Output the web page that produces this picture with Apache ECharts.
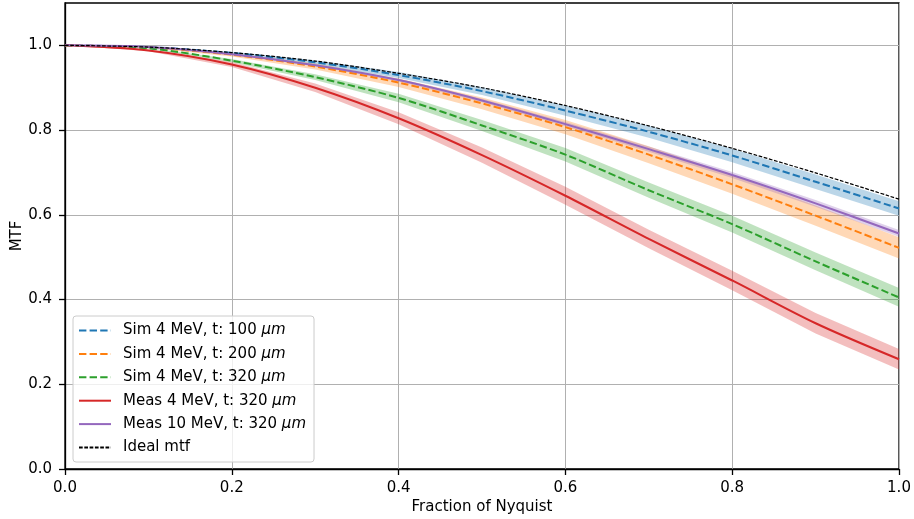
<!DOCTYPE html>
<html>
<head>
<meta charset="utf-8">
<script src="https://cdn.jsdelivr.net/npm/echarts@6/dist/echarts.min.js"></script>
<style>
html, body { margin: 0; padding: 0; background: #fff; }
#chart { width: 914px; height: 519px; }
</style>
</head>
<body>
<div id="chart"></div>
<script>
// ************ data ************
var freq = [0, 0.1, 0.2, 0.3, 0.4, 0.5, 0.6, 0.7, 0.8, 0.9, 1.0];

var sim100 = [1, 0.996, 0.982, 0.960, 0.930, 0.892, 0.846, 0.796, 0.740, 0.678, 0.615];
var sim200 = [1, 0.995, 0.978, 0.950, 0.912, 0.863, 0.807, 0.742, 0.672, 0.598, 0.522];
var sim320 = [1, 0.993, 0.964, 0.925, 0.876, 0.811, 0.742, 0.658, 0.578, 0.490, 0.405];
var meas4 = [1, 0.988, 0.955, 0.900, 0.828, 0.741, 0.645, 0.543, 0.445, 0.344, 0.259];
var meas10 = [1, 0.996, 0.979, 0.953, 0.918, 0.870, 0.814, 0.755, 0.694, 0.627, 0.556];
var ideal = [1, 0.996, 0.983, 0.963, 0.934, 0.900, 0.858, 0.810, 0.757, 0.699, 0.637];

// half width of the shaded bands
var sim100Band = [0, 0.001, 0.003, 0.005, 0.007, 0.009, 0.012, 0.014, 0.016, 0.017, 0.017];
var sim200Band = [0, 0.001, 0.004, 0.007, 0.010, 0.014, 0.017, 0.020, 0.022, 0.024, 0.025];
var sim320Band = [0, 0.001, 0.004, 0.007, 0.010, 0.013, 0.016, 0.018, 0.020, 0.021, 0.022];
var meas4Band = [0, 0.002, 0.006, 0.010, 0.014, 0.018, 0.021, 0.022, 0.023, 0.024, 0.024];
var meas10Band = [0, 0, 0.001, 0.002, 0.003, 0.004, 0.005, 0.006, 0.007, 0.008, 0.008];

var yTicks = [0, 0.2, 0.4, 0.6, 0.8, 1.0];

var names = [
    'Sim 4 MeV, t: 100 ',
    'Sim 4 MeV, t: 200 ',
    'Sim 4 MeV, t: 320 ',
    'Meas 4 MeV, t: 320 ',
    'Meas 10 MeV, t: 320 ',
    'Ideal mtf'
];

var blue = '#1f77b4', orange = '#ff7f0e', green = '#2ca02c', red = '#d62728', purple = '#9467bd';
var FONT = 'DejaVu Sans';

function pairs(vals) {
    var out = [];
    for (var i = 0; i < freq.length; i++) out.push([freq[i], vals[i]]);
    return out;
}

// shaded band drawn as one polygon through the axis scales
function band(vals, half, color) {
    return {
        type: 'custom',
        silent: true,
        z: 1,
        data: [[0, 0]],
        renderItem: function (params, api) {
            var pts = [];
            for (var i = 0; i < freq.length; i++) pts.push(api.coord([freq[i], vals[i] + half[i]]));
            for (var j = freq.length - 1; j >= 0; j--) pts.push(api.coord([freq[j], vals[j] - half[j]]));
            return {
                type: 'polygon',
                shape: { points: pts },
                style: { fill: color, opacity: 0.3 }
            };
        }
    };
}

function line(name, vals, color, type, width, dash) {
    return {
        type: 'line',
        name: name,
        data: pairs(vals),
        smooth: 0.3,
        symbol: 'none',
        z: 3,
        itemStyle: { color: color },
        lineStyle: { color: color, width: width, type: type === 'dashed' ? dash : 'solid' }
    };
}

var chart = echarts.init(document.getElementById('chart'));

var option = {
    animation: false,
    backgroundColor: '#fff',
    textStyle: { fontFamily: FONT },
    grid: {
        left: 65, right: 15, top: 3, bottom: 50,
        outerBoundsMode: 'none',
        containLabel: false,
        show: true, borderColor: '#000', borderWidth: 1.3, backgroundColor: 'transparent'
    },
    legend: {
        orient: 'vertical',
        left: 73,
        top: 316,
        data: names,
        itemWidth: 32,
        itemHeight: 10,
        itemGap: 8.4,
        padding: [7, 8, 7, 5],
        backgroundColor: 'rgba(255,255,255,0.8)',
        borderColor: '#cccccc',
        borderWidth: 1,
        borderRadius: 3,
        itemStyle: { opacity: 0 },
        textStyle: {
            fontFamily: FONT, fontSize: 15, color: '#000',
            padding: [0, 0, 0, 7],
            rich: {
                n: { fontFamily: FONT, fontSize: 15, color: '#000' },
                i: { fontFamily: FONT, fontSize: 15, color: '#000', fontStyle: 'italic' }
            }
        },
        formatter: function (name) {
            if (name === 'Ideal mtf') return '{n|' + name + '}';
            return '{n|' + name + '}{i|μm}';
        }
    },
    xAxis: {
        type: 'value',
        min: 0, max: 1, interval: 0.2,
        name: 'Fraction of Nyquist',
        nameLocation: 'middle',
        nameGap: 31,
        nameMoveOverlap: false,
        nameTextStyle: { fontFamily: FONT, fontSize: 15, color: '#000' },
        axisLine: { show: true, onZero: false, lineStyle: { color: '#000', width: 1.3 } },
        axisTick: { show: true, length: 6, lineStyle: { color: '#000', width: 1.3 } },
        axisLabel: {
            fontFamily: FONT, fontSize: 15, color: '#000', margin: 12,
            formatter: function (v) { return v.toFixed(1); }
        },
        splitLine: { show: true, lineStyle: { color: '#b0b0b0', width: 1 } }
    },
    yAxis: {
        type: 'value',
        min: 0, max: 1.1, interval: 0.2,
        name: 'MTF',
        nameLocation: 'middle',
        nameGap: 40,
        nameMoveOverlap: false,
        nameRotate: 90,
        nameTextStyle: { fontFamily: FONT, fontSize: 15, color: '#000' },
        axisLine: { show: true, onZero: false, lineStyle: { color: '#000', width: 1.3 } },
        axisTick: { show: true, length: 6, customValues: yTicks, lineStyle: { color: '#000', width: 1.3 } },
        axisLabel: {
            fontFamily: FONT, fontSize: 15, color: '#000', margin: 13,
            customValues: yTicks,
            formatter: function (v) { return v.toFixed(1); }
        },
        splitLine: { show: true, lineStyle: { color: '#b0b0b0', width: 1 } }
    },
    series: [
        band(sim100, sim100Band, blue),
        band(sim200, sim200Band, orange),
        band(sim320, sim320Band, green),
        band(meas4, meas4Band, red),
        band(meas10, meas10Band, purple),
        line(names[0], sim100, blue, 'dashed', 2, [7.4, 3.2]),
        line(names[1], sim200, orange, 'dashed', 2, [7.4, 3.2]),
        line(names[2], sim320, green, 'dashed', 2, [7.4, 3.2]),
        line(names[3], meas4, red, 'solid', 2),
        line(names[4], meas10, purple, 'solid', 2),
        line(names[5], ideal, '#000', 'dashed', 1.2, [3.7, 1.6])
    ]
};

chart.setOption(option);
</script>
</body>
</html>
